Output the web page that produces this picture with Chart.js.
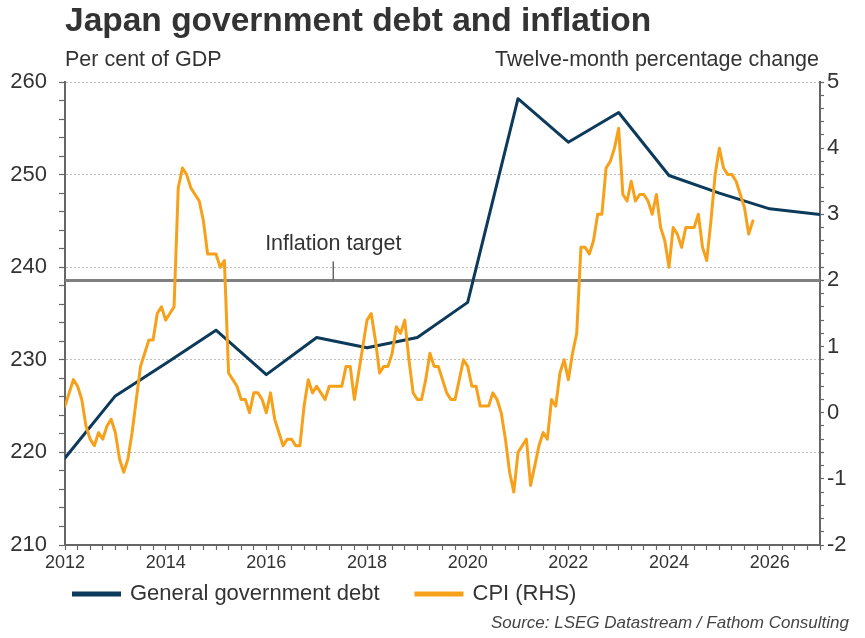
<!DOCTYPE html>
<html>
<head>
<meta charset="utf-8">
<title>Japan government debt and inflation</title>
<script src="https://cdn.jsdelivr.net/npm/chart.js@4.4.1/dist/chart.umd.min.js"></script>
<style>
  html, body { margin: 0; padding: 0; background: #fff; }
  canvas { display: block; }
</style>
</head>
<body>
<canvas id="debtChart" width="865" height="638"></canvas>
<script>
// general government debt, per cent of GDP (annual points)
const debtYears = [2012, 2013, 2014, 2015, 2016, 2017, 2018, 2019, 2020, 2021, 2022, 2023, 2024, 2025, 2026, 2027];
const debtValues = [219.4, 226.1, 229.6, 233.2, 228.4, 232.4, 231.3, 232.4, 236.2, 258.2, 253.5, 256.7, 249.9, 248.0, 246.3, 245.7];

// CPI, twelve-month % change, monthly from Jan 2012
const cpiStartYear = 2012;
const cpiValues = [
    0.1, 0.3, 0.5, 0.4, 0.2, -0.2, -0.4, -0.5, -0.3, -0.4, -0.2, -0.1,   // 2012
    -0.3, -0.7, -0.9, -0.7, -0.3, 0.2, 0.7, 0.9, 1.1, 1.1, 1.5, 1.6,     // 2013
    1.4, 1.5, 1.6, 3.4, 3.7, 3.6, 3.4, 3.3, 3.2, 2.9, 2.4, 2.4,          // 2014
    2.4, 2.2, 2.3, 0.6, 0.5, 0.4, 0.2, 0.2, 0.0, 0.3, 0.3, 0.2,          // 2015
    0.0, 0.3, -0.1, -0.3, -0.5, -0.4, -0.4, -0.5, -0.5, 0.1, 0.5, 0.3,   // 2016
    0.4, 0.3, 0.2, 0.4, 0.4, 0.4, 0.4, 0.7, 0.7, 0.2, 0.6, 1.0,          // 2017
    1.4, 1.5, 1.1, 0.6, 0.7, 0.7, 0.9, 1.3, 1.2, 1.4, 0.8, 0.3,          // 2018
    0.2, 0.2, 0.5, 0.9, 0.7, 0.7, 0.5, 0.3, 0.2, 0.2, 0.5, 0.8,          // 2019
    0.7, 0.4, 0.4, 0.1, 0.1, 0.1, 0.3, 0.2, 0.0, -0.4, -0.9, -1.2,       // 2020
    -0.6, -0.5, -0.4, -1.1, -0.8, -0.5, -0.3, -0.4, 0.2, 0.1, 0.6, 0.8,  // 2021
    0.5, 0.9, 1.2, 2.5, 2.5, 2.4, 2.6, 3.0, 3.0, 3.7, 3.8, 4.0,          // 2022
    4.3, 3.3, 3.2, 3.5, 3.2, 3.3, 3.3, 3.2, 3.0, 3.3, 2.8, 2.6,          // 2023
    2.2, 2.8, 2.7, 2.5, 2.8, 2.8, 2.8, 3.0, 2.5, 2.3, 2.9, 3.6,          // 2024
    4.0, 3.7, 3.6, 3.6, 3.5, 3.3, 3.1, 2.7, 2.9                          // 2025
];

const inflationTarget = 2;
const targetLabelYear = 2017.33;

const xRange = [2012, 2027];
const leftRange = [210, 260];
const rightRange = [-2, 5];

const FONT = '"Liberation Sans", Arial, sans-serif';
const TEXT = '#333333';
const AXIS = '#666666';

const debtPoints = debtYears.map((yr, i) => ({ x: yr, y: debtValues[i] }));
const cpiPoints = cpiValues.map((v, i) => ({ x: cpiStartYear + i / 12, y: v }));
const targetPoints = xRange.map(yr => ({ x: yr, y: inflationTarget }));

const isWhole = (v, step) => Math.abs(v / step - Math.round(v / step)) < 1e-6;

// title, axis captions, target label, legend, source
const decorations = {
    id: 'decorations',
    afterDraw(chart) {
        const ctx = chart.ctx;
        const area = chart.chartArea;
        const xs = chart.scales.x;
        const y1 = chart.scales.y1;
        ctx.save();
        ctx.fillStyle = TEXT;
        ctx.textBaseline = 'alphabetic';

        ctx.font = 'bold 33.5px ' + FONT;
        ctx.textAlign = 'left';
        ctx.fillText('Japan government debt and inflation', area.left, 31);

        ctx.font = '21.5px ' + FONT;
        ctx.fillText('Per cent of GDP', area.left, 66);
        ctx.textAlign = 'right';
        ctx.fillText('Twelve-month percentage change', area.right - 1, 66);

        // inflation target marker
        const tx = xs.getPixelForValue(targetLabelYear);
        const ty = y1.getPixelForValue(inflationTarget);
        ctx.strokeStyle = AXIS;
        ctx.lineWidth = 1.5;
        ctx.beginPath();
        ctx.moveTo(tx, ty);
        ctx.lineTo(tx, ty - 19);
        ctx.stroke();
        ctx.textAlign = 'center';
        ctx.font = '21.5px ' + FONT;
        ctx.fillText('Inflation target', tx, ty - 30);

        // legend
        const items = chart.data.datasets.filter(d => d.inLegend);
        let lx = 72;
        const ly = 594;
        ctx.font = '22px ' + FONT;
        ctx.textAlign = 'left';
        ctx.textBaseline = 'middle';
        items.forEach(d => {
            ctx.strokeStyle = d.borderColor;
            ctx.lineWidth = 5;
            ctx.beginPath();
            ctx.moveTo(lx, ly);
            ctx.lineTo(lx + 49, ly);
            ctx.stroke();
            ctx.fillStyle = TEXT;
            ctx.fillText(d.label, lx + 58, ly);
            lx += 58 + ctx.measureText(d.label).width + 35;
        });

        ctx.font = 'italic 17px ' + FONT;
        ctx.textAlign = 'right';
        ctx.textBaseline = 'alphabetic';
        ctx.fillStyle = '#444444';
        ctx.fillText('Source: LSEG Datastream / Fathom Consulting', 849, 628);
        ctx.restore();
    }
};

new Chart(document.getElementById('debtChart'), {
    type: 'line',
    data: {
        datasets: [{
            label: 'General government debt',
            data: debtPoints,
            yAxisID: 'y',
            borderColor: '#0c3a5b',
            borderWidth: 3,
            inLegend: true,
            order: 2
        }, {
            label: 'CPI (RHS)',
            data: cpiPoints,
            yAxisID: 'y1',
            borderColor: '#f7a11b',
            borderWidth: 3,
            inLegend: true,
            order: 1
        }, {
            label: 'Inflation target',
            data: targetPoints,
            yAxisID: 'y1',
            borderColor: '#808080',
            borderWidth: 3,
            order: 3
        }]
    },
    options: {
        responsive: false,
        animation: false,
        elements: {
            point: { radius: 0, hoverRadius: 0 },
            line: { tension: 0, borderJoinStyle: 'round', borderCapStyle: 'round' }
        },
        layout: { padding: { top: 82, bottom: 53, left: 0, right: 0 } },
        plugins: {
            legend: { display: false },
            tooltip: { enabled: false }
        },
        scales: {
            x: {
                type: 'linear',
                position: 'bottom',
                min: xRange[0],
                max: xRange[1],
                afterFit: s => { s.height = 40; },
                border: { color: AXIS, width: 2 },
                grid: { drawOnChartArea: false, tickLength: 5, tickColor: AXIS, tickWidth: 1.2 },
                ticks: {
                    stepSize: 0.25,
                    maxTicksLimit: 100,
                    autoSkip: false,
                    maxRotation: 0,
                    padding: 2,
                    color: TEXT,
                    font: { family: FONT, size: 18 },
                    callback: v => (isWhole(v, 2) ? String(Math.round(v)) : '')
                }
            },
            y: {
                position: 'left',
                min: leftRange[0],
                max: leftRange[1],
                afterFit: s => { s.width = 65; },
                border: { color: AXIS, width: 2, dash: [2, 2] },
                grid: {
                    color: c => (isWhole(c.tick.value, 10) && c.tick.value > leftRange[0] ? '#bdbdbd' : 'rgba(0,0,0,0)'),
                    lineWidth: 1,
                    tickLength: 6,
                    tickColor: AXIS,
                    tickWidth: 1.2,
                    tickBorderDash: []
                },
                ticks: {
                    stepSize: 2,
                    maxTicksLimit: 100,
                    autoSkip: false,
                    padding: 12,
                    color: TEXT,
                    font: { family: FONT, size: 22 },
                    callback: v => (isWhole(v, 10) ? String(v) : '')
                }
            },
            y1: {
                position: 'right',
                min: rightRange[0],
                max: rightRange[1],
                afterFit: s => { s.width = 45; },
                border: { color: AXIS, width: 2 },
                grid: { drawOnChartArea: false, tickLength: 4, tickColor: AXIS, tickWidth: 1.2 },
                ticks: {
                    stepSize: 0.2,
                    maxTicksLimit: 100,
                    autoSkip: false,
                    padding: 3,
                    color: TEXT,
                    font: { family: FONT, size: 22 },
                    callback: v => (isWhole(v, 1) ? String(Math.round(v)) : '')
                }
            }
        }
    },
    plugins: [decorations]
});
</script>
</body>
</html>
